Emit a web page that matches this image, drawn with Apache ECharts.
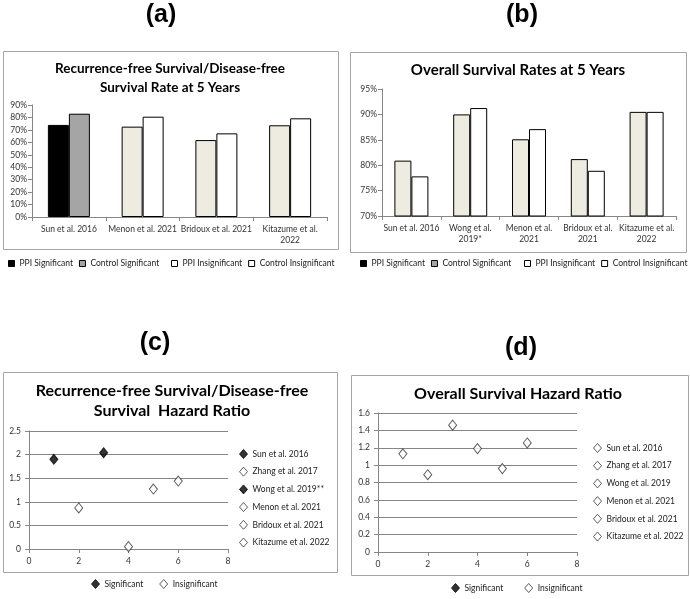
<!DOCTYPE html>
<html>
<head>
<meta charset="utf-8">
<script src="https://cdn.jsdelivr.net/npm/echarts@6/dist/echarts.min.js"></script>
<style>html,body{margin:0;padding:0;background:#fff;}#c{width:690px;height:599px;}</style>
</head>
<body>
<div id="c"></div>
<script>
// ---- Data ----
const catsA = ['Sun et al. 2016', 'Menon et al. 2021', 'Bridoux et al. 2021', 'Kitazume et al.\n2022'];
const ppiSigA = [74, null, null, null];
const ctrlSigA = [83, null, null, null];
const ppiInsA = [null, 72.6, 61.8, 73.7];
const ctrlInsA = [null, 80.6, 67.2, 79.3];
const yTicksA = [0, 90, 10];

const catsB = ['Sun et al. 2016', 'Wong et al.\n2019*', 'Menon et al.\n2021', 'Bridoux et al.\n2021', 'Kitazume et al.\n2022'];
const ppiInsB = [80.9, 90.0, 85.1, 81.2, 90.5];
const ctrlInsB = [77.8, 91.25, 87.1, 78.9, 90.5];
const yTicksB = [70, 95, 5];

const studiesC = ['Sun et al. 2016', 'Zhang et al. 2017', 'Wong et al. 2019**', 'Menon et al. 2021', 'Bridoux et al. 2021', 'Kitazume et al. 2022'];
const xC = [1, 2, 3, 4, 5, 6];
const hrC = [1.90, 0.87, 2.04, 0.05, 1.27, 1.44];
const sigC = [true, false, true, false, false, false];

const studiesD = ['Sun et al. 2016', 'Zhang et al. 2017', 'Wong et al. 2019', 'Menon et al. 2021', 'Bridoux et al. 2021', 'Kitazume et al. 2022'];
const xD = [1, 2, 3, 4, 5, 6];
const hrD = [1.13, 0.89, 1.46, 1.19, 0.96, 1.255];
const sigD = [false, false, false, false, false, false];

// ---- Styles ----
const FONT = 'Lato, "Open Sans", sans-serif';
const AX = '#868686';
const TXT = '#333';
const colPPISig = '#000000', colCtrlSig = '#a5a5a5', colPPIIns = '#eeece1', colCtrlIns = '#ffffff';
const filledDia = {color: '#000', borderColor: '#000', borderWidth: 1};
const hollowDia = {color: '#fff', borderColor: '#333', borderWidth: 1};

const chart = echarts.init(document.getElementById('c'), null, {renderer: 'canvas'});

function barAxisX(cats, gi) {
  return {type: 'category', gridIndex: gi, data: cats,
    axisLine: {lineStyle: {color: AX}}, axisTick: {show: true, alignWithLabel: false, length: 4, lineStyle: {color: AX}},
    axisLabel: {interval: 0, color: TXT, fontSize: 8.5, fontFamily: FONT, margin: 7, lineHeight: 11}};
}
function valAxisY(t, gi, fmt) {
  return {type: 'value', gridIndex: gi, min: t[0], max: t[1], interval: t[2],
    axisLine: {show: true, lineStyle: {color: AX}}, axisTick: {show: true, length: 4, lineStyle: {color: AX}},
    splitLine: {show: false},
    axisLabel: {color: TXT, fontSize: 8.5, fontFamily: FONT, margin: 5, formatter: fmt}};
}
function scatAxisX(gi) {
  return {type: 'value', gridIndex: gi, min: 0, max: 8, interval: 2,
    axisLine: {show: true, onZero: false, lineStyle: {color: AX}}, axisTick: {show: true, length: 4, inside: false, lineStyle: {color: AX}},
    splitLine: {show: false},
    axisLabel: {color: TXT, fontSize: 8.5, fontFamily: FONT, margin: 8}};
}
function scatAxisY(gi, max, iv) {
  return {type: 'value', gridIndex: gi, min: 0, max: max, interval: iv,
    axisLine: {show: true, lineStyle: {color: AX}}, axisTick: {show: true, length: 4, lineStyle: {color: AX}},
    splitLine: {show: true, lineStyle: {color: '#858585', width: 1}},
    axisLabel: {color: TXT, fontSize: 8.5, fontFamily: FONT, margin: 8}};
}

const barBase = {type: 'bar', barWidth: 21, barGap: '0%', itemStyle: {borderColor: '#000', borderWidth: 1}};

const series = [
  Object.assign({}, barBase, {name: 'PPI Significant', xAxisIndex: 0, yAxisIndex: 0, stack: 'ppi', data: ppiSigA, itemStyle: {color: colPPISig, borderColor: '#000', borderWidth: 1}}),
  Object.assign({}, barBase, {name: 'Control Significant', xAxisIndex: 0, yAxisIndex: 0, stack: 'ctrl', data: ctrlSigA, itemStyle: {color: colCtrlSig, borderColor: '#000', borderWidth: 1}}),
  Object.assign({}, barBase, {name: 'PPI Insignificant', xAxisIndex: 0, yAxisIndex: 0, stack: 'ppi', data: ppiInsA, itemStyle: {color: colPPIIns, borderColor: '#000', borderWidth: 1}}),
  Object.assign({}, barBase, {name: 'Control Insignificant', xAxisIndex: 0, yAxisIndex: 0, stack: 'ctrl', data: ctrlInsA, itemStyle: {color: colCtrlIns, borderColor: '#000', borderWidth: 1}}),
  Object.assign({}, barBase, {name: 'PPI Insignificant', xAxisIndex: 1, yAxisIndex: 1, barWidth: 17, data: ppiInsB, itemStyle: {color: colPPIIns, borderColor: '#000', borderWidth: 1}}),
  Object.assign({}, barBase, {name: 'Control Insignificant', xAxisIndex: 1, yAxisIndex: 1, barWidth: 17, data: ctrlInsB, itemStyle: {color: colCtrlIns, borderColor: '#000', borderWidth: 1}})
];
studiesC.forEach(function (n, i) {
  series.push({type: 'scatter', name: n, xAxisIndex: 2, yAxisIndex: 2, symbol: 'diamond', symbolSize: [8, 10],
    itemStyle: sigC[i] ? filledDia : hollowDia, data: [[xC[i], hrC[i]]]});
});
studiesD.forEach(function (n, i) {
  series.push({type: 'scatter', name: n, xAxisIndex: 3, yAxisIndex: 3, symbol: 'diamond', symbolSize: [8, 10],
    itemStyle: sigD[i] ? filledDia : hollowDia, data: [[xD[i], hrD[i]]]});
});
series.push({type: 'scatter', name: 'Significant', xAxisIndex: 2, yAxisIndex: 2, symbol: 'diamond', itemStyle: filledDia, data: []});
series.push({type: 'scatter', name: 'Insignificant', xAxisIndex: 2, yAxisIndex: 2, symbol: 'diamond', itemStyle: hollowDia, data: []});

const legText = {color: '#222', fontSize: 8.5, fontFamily: FONT};
function barLeg(left, items) {
  return {left: left, top: 259, orient: 'horizontal', selectedMode: false, itemWidth: 6, itemHeight: 6, itemGap: 6, padding: 0,
    icon: 'rect', textStyle: legText, data: items.map(function (it) {
      return {name: it[0], itemStyle: {color: it[1], borderColor: '#000', borderWidth: 1}};
    })};
}
function sideLeg(left, top, names, sig) {
  return {left: left, top: top, orient: 'vertical', selectedMode: false, itemWidth: 8, itemHeight: 9, itemGap: 7.7, padding: 0,
    textStyle: legText, data: names.map(function (n, i) {
      return {name: n, icon: 'diamond', itemStyle: sig[i] ? filledDia : hollowDia};
    })};
}
function botLeg(left, top, gap) {
  return {left: left, top: top, orient: 'horizontal', selectedMode: false, itemWidth: 8, itemHeight: 9, itemGap: gap, padding: 0,
    textStyle: legText, data: [
      {name: 'Significant', icon: 'diamond', itemStyle: filledDia},
      {name: 'Insignificant', icon: 'diamond', itemStyle: hollowDia}]};
}

function ttl(text, x, y, size, lh) {
  return {text: text, left: x, top: y, textAlign: 'center', padding: 0,
    textStyle: {fontFamily: FONT, fontWeight: 'bold', fontSize: size, color: '#000', lineHeight: lh || size * 1.3}};
}
function lbl(text, x, y) {
  return {text: text, left: x, top: y, textAlign: 'center', padding: 0,
    textStyle: {fontFamily: '"Liberation Sans", Arial, sans-serif', fontWeight: 'bold', fontSize: 25, color: '#000'}};
}

function box(x, y, w, h) {
  return {type: 'rect', silent: true, z: -1, shape: {x: x + 0.5, y: y + 0.5, width: w, height: h},
    style: {fill: 'none', stroke: '#a6a6a6', lineWidth: 1}};
}

chart.setOption({
  animation: false,
  backgroundColor: '#fff',
  title: [
    lbl('(a)', 161, 3), lbl('(b)', 522, 3), lbl('(c)', 155, 331), lbl('(d)', 521, 336),
    ttl('Recurrence-free Survival/Disease-free\nSurvival Rate at 5 Years', 170, 59, 13.5, 19),
    ttl('Overall Survival Rates at 5 Years', 518, 60, 15),
    ttl('Recurrence-free Survival/Disease-free\nSurvival  Hazard Ratio', 172, 381, 16, 20),
    ttl('Overall Survival Hazard Ratio', 518, 383, 16)
  ],
  graphic: [box(3, 51, 335, 198), box(350, 52, 336, 200), box(3, 372, 334, 200), box(351, 375, 337, 200)],
  grid: [
    {left: 32, top: 105, width: 295, height: 112},
    {left: 382, top: 89, width: 294, height: 127},
    {left: 29, top: 431, width: 199, height: 118},
    {left: 378, top: 413, width: 199, height: 139}
  ],
  xAxis: [barAxisX(catsA, 0), barAxisX(catsB, 1), scatAxisX(2), scatAxisX(3)],
  yAxis: [valAxisY(yTicksA, 0, '{value}%'), valAxisY(yTicksB, 1, '{value}%'), scatAxisY(2, 2.5, 0.5), scatAxisY(3, 1.6, 0.2)],
  legend: [
    barLeg(8, [['PPI Significant', colPPISig], ['Control Significant', colCtrlSig]]),
    barLeg(171, [['PPI Insignificant', colCtrlIns], ['Control Insignificant', colCtrlIns]]),
    barLeg(360, [['PPI Significant', colPPISig], ['Control Significant', colCtrlSig]]),
    barLeg(524, [['PPI Insignificant', colCtrlIns], ['Control Insignificant', colCtrlIns]]),
    sideLeg(239, 449, studiesC, sigC),
    sideLeg(593, 443, studiesD, sigD),
    botLeg(91, 579, 16),
    botLeg(451, 583, 21)
  ],
  series: series
});
</script>
</body>
</html>
